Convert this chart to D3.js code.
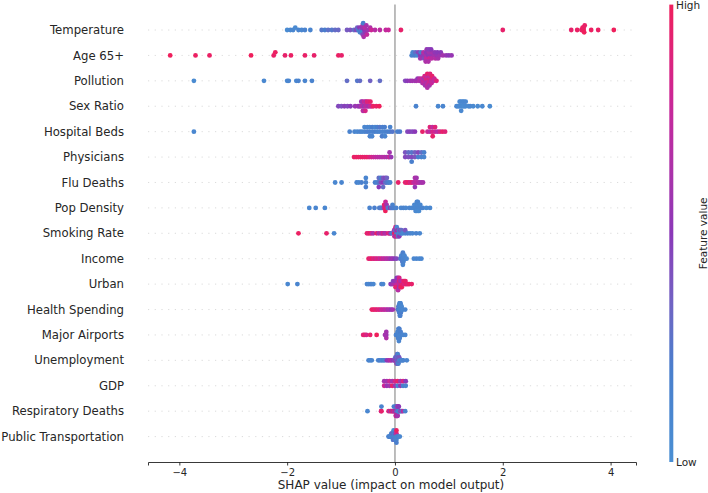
<!DOCTYPE html>
<html><head><meta charset="utf-8">
<script src="https://cdn.jsdelivr.net/npm/d3@7/dist/d3.min.js"></script>
<style>body{margin:0;background:#fff}svg{display:block;font-family:"DejaVu Sans",sans-serif}</style>
</head><body><svg id="c" width="708" height="493"></svg>
<script>
const features = ["Temperature","Age 65+","Pollution","Sex Ratio","Hospital Beds","Physicians","Flu Deaths","Pop Density","Smoking Rate","Income","Urban","Health Spending","Major Airports","Unemployment","GDP","Respiratory Deaths","Public Transportation"];
const xTicks = [-4,-2,0,2,4];
const colorTicks = ["Low","High"];
// each point: [SHAP value, normalised feature value]
const temperature = [[-2.0,0.05],[-1.94,0.08],[-1.89,0.1],[-1.85,0.06],[-1.79,0.12],[-1.73,0.1],[-1.67,0.15],[-1.57,0.12],[-1.36,0.25],[-1.30,0.22],[-1.24,0.28],[-1.17,0.25],[-1.11,0.3],[-1.05,0.32],[-0.89,0.38],[-0.83,0.4],[-0.76,0.3],[-0.72,0.45],[-0.70,0.35],[-0.68,0.2],[-0.66,0.5],[-0.65,0.15],[-0.63,0.25],[-0.62,0.55],[-0.61,0.15],[-0.60,0.6],[-0.60,0.45],[-0.59,0.2],[-0.58,0.65],[-0.57,0.5],[-0.56,0.7],[-0.55,0.55],[-0.53,0.62],[-0.52,0.75],[-0.5,0.6],[-0.46,0.65],[-0.44,0.8],[-0.37,0.7],[-0.28,0.72],[-0.17,0.75],[-0.12,0.78],[0.11,0.95],[2.0,0.95],[3.27,0.95],[3.38,0.97],[3.46,0.96],[3.48,0.98],[3.5,0.99],[3.5,0.97],[3.51,1.0],[3.52,0.96],[3.64,0.98],[3.77,0.97],[4.06,1.0]];
const age65 = [[-4.17,1.0],[-3.7,0.98],[-3.44,0.97],[-2.67,1.0],[-2.25,0.96],[-2.22,0.98],[-2.04,0.95],[-1.93,0.97],[-1.67,0.96],[-1.5,0.95],[-1.05,0.97],[-0.99,0.95],[0.31,0.15],[0.33,0.1],[0.36,0.2],[0.38,0.3],[0.41,0.12],[0.43,0.45],[0.47,0.5],[0.48,0.2],[0.47,0.6],[0.52,0.55],[0.53,0.7],[0.54,0.45],[0.57,0.6],[0.58,0.5],[0.58,0.75],[0.59,0.55],[0.57,0.65],[0.62,0.52],[0.63,0.6],[0.64,0.8],[0.63,0.48],[0.62,0.65],[0.68,0.55],[0.69,0.62],[0.68,0.7],[0.67,0.5],[0.73,0.6],[0.74,0.52],[0.75,0.68],[0.78,0.55],[0.79,0.5],[0.8,0.62],[0.83,0.58],[0.85,0.5],[0.89,0.6],[0.95,0.55],[1.0,0.5],[1.05,0.55]];
const pollution = [[-3.73,0.05],[-2.43,0.08],[-2.0,0.1],[-1.97,0.12],[-1.83,0.1],[-1.79,0.15],[-1.67,0.12],[-1.54,0.15],[-0.89,0.3],[-0.7,0.25],[-0.65,0.3],[-0.46,0.35],[-0.28,0.3],[0.19,0.45],[0.23,0.5],[0.28,0.55],[0.32,0.6],[0.37,0.58],[0.40,0.62],[0.42,0.55],[0.45,0.65],[0.46,0.7],[0.49,0.6],[0.5,0.75],[0.51,0.68],[0.53,0.8],[0.54,0.62],[0.55,0.72],[0.55,0.85],[0.56,0.6],[0.58,0.7],[0.58,0.9],[0.59,0.65],[0.59,0.74],[0.6,0.78],[0.6,0.95],[0.6,0.66],[0.62,0.7],[0.63,0.88],[0.63,0.82],[0.64,0.75],[0.64,0.62],[0.65,0.9],[0.67,0.68],[0.68,0.85],[0.68,0.78],[0.69,0.95],[0.72,0.72],[0.73,0.8],[0.77,0.9]];
const sexRatio = [[-1.05,0.45],[-0.994,0.42],[-0.938,0.48],[-0.881,0.45],[-0.825,0.5],[-0.74,0.55],[-0.685,0.6],[-0.657,0.52],[-0.63,0.65],[-0.625,0.58],[-0.6,0.7],[-0.605,0.6],[-0.595,0.75],[-0.572,0.55],[-0.57,0.8],[-0.575,0.65],[-0.544,0.72],[-0.54,0.6],[-0.548,0.85],[-0.516,0.7],[-0.52,0.9],[-0.488,0.62],[-0.49,0.88],[-0.46,0.75],[-0.455,0.95],[-0.432,0.8],[-0.404,0.98],[-0.347,0.95],[-0.291,1.0],[0.39,0.15],[0.8,0.1],[0.89,0.12],[1.142,0.1],[1.17,0.08],[1.198,0.05],[1.2,0.1],[1.226,0.07],[1.224,0.06],[1.228,0.08],[1.254,0.05],[1.256,0.1],[1.282,0.04],[1.28,0.08],[1.31,0.06],[1.312,0.1],[1.367,0.05],[1.395,0.08],[1.451,0.06],[1.535,0.05],[1.62,0.08],[1.76,0.05]];
const hospitalBeds = [[-3.73,0.1],[-0.84,0.15],[-0.75,0.12],[-0.70,0.1],[-0.65,0.15],[-0.61,0.12],[-0.56,0.15],[-0.565,0.1],[-0.515,0.2],[-0.51,0.12],[-0.468,0.18],[-0.47,0.1],[-0.465,0.15],[-0.421,0.15],[-0.42,0.22],[-0.425,0.12],[-0.375,0.18],[-0.37,0.1],[-0.328,0.15],[-0.33,0.2],[-0.282,0.12],[-0.28,0.25],[-0.235,0.15],[-0.23,0.18],[-0.24,0.22],[-0.188,0.15],[-0.19,0.2],[-0.185,0.12],[-0.142,0.18],[-0.095,0.2],[-0.09,0.15],[-0.049,0.25],[0.045,0.2],[0.091,0.22],[0.231,0.45],[0.277,0.48],[0.324,0.45],[0.371,0.5],[0.51,0.95],[0.603,0.8],[0.65,0.7],[0.648,0.9],[0.697,0.85],[0.695,0.75],[0.7,0.95],[0.743,0.8],[0.745,0.9],[0.79,0.7],[0.836,0.85],[0.883,0.95],[0.93,0.9]];
const physicians = [[-0.76,0.97],[-0.72,0.95],[-0.68,0.98],[-0.64,0.95],[-0.6,0.97],[-0.56,0.93],[-0.52,0.96],[-0.48,0.9],[-0.44,0.85],[-0.4,0.8],[-0.36,0.75],[-0.32,0.72],[-0.28,0.7],[-0.24,0.68],[-0.2,0.7],[-0.16,0.65],[-0.12,0.62],[-0.1,0.8],[-0.1,0.6],[-0.07,0.55],[0.19,0.45],[0.19,0.4],[0.25,0.42],[0.25,0.3],[0.31,0.45],[0.31,0.25],[0.31,0.2],[0.37,0.4],[0.37,0.35],[0.43,0.2],[0.43,0.45],[0.49,0.15],[0.49,0.3],[0.54,0.12],[0.54,0.2]];
const fluDeaths = [[-1.11,0.1],[-0.99,0.12],[-0.71,0.15],[-0.67,0.1],[-0.62,0.18],[-0.54,0.15],[-0.54,0.12],[-0.54,0.2],[-0.37,0.2],[-0.33,0.15],[-0.3,0.25],[-0.3,0.3],[-0.3,0.5],[-0.26,0.45],[-0.26,0.2],[-0.22,0.5],[-0.22,0.4],[-0.22,0.3],[-0.18,0.3],[-0.18,0.45],[-0.15,0.25],[-0.15,0.35],[-0.12,0.2],[-0.09,0.15],[0.06,0.95],[0.19,0.95],[0.22,0.9],[0.25,0.98],[0.28,0.85],[0.31,0.92],[0.34,0.8],[0.37,0.7],[0.37,0.65],[0.37,0.55],[0.4,0.75],[0.4,0.6],[0.43,0.7],[0.46,0.65],[0.49,0.6],[0.52,0.62]];
const popDensity = [[-1.59,0.1],[-1.47,0.12],[-1.3,0.1],[-0.47,0.15],[-0.38,0.2],[-0.291,0.15],[-0.268,0.25],[-0.246,0.12],[-0.224,0.3],[-0.201,0.7],[-0.2,0.95],[-0.179,0.95],[-0.18,0.9],[-0.178,1.0],[-0.175,0.8],[-0.156,0.92],[-0.155,0.6],[-0.134,0.3],[-0.112,0.2],[-0.089,0.55],[-0.067,0.2],[-0.044,0.25],[-0.045,0.15],[-0.022,0.2],[0.023,0.15],[0.112,0.1],[0.157,0.15],[0.202,0.1],[0.269,0.12],[0.314,0.1],[0.359,0.08],[0.36,0.12],[0.381,0.1],[0.38,0.05],[0.383,0.12],[0.404,0.08],[0.405,0.1],[0.402,0.06],[0.406,0.12],[0.426,0.1],[0.425,0.08],[0.428,0.06],[0.424,0.12],[0.448,0.08],[0.45,0.1],[0.446,0.05],[0.471,0.1],[0.47,0.08],[0.516,0.12],[0.583,0.05],[0.65,0.08]];
const smokingRate = [[-1.79,0.98],[-1.27,0.95],[-1.13,0.1],[-0.52,0.95],[-0.49,0.9],[-0.46,0.98],[-0.43,0.8],[-0.40,0.65],[-0.34,0.95],[-0.3,0.6],[-0.26,0.8],[-0.24,0.65],[-0.22,0.85],[-0.19,0.6],[-0.17,0.7],[-0.12,0.95],[-0.1,0.8],[-0.08,0.6],[-0.06,0.2],[-0.0125,0.95],[-0.015,0.6],[-0.01,0.8],[0.01,0.98],[0.012,0.15],[0.008,0.6],[0.01,0.85],[0.0325,0.2],[0.03,0.55],[0.035,0.95],[0.033,0.1],[0.055,0.15],[0.053,0.6],[0.057,0.2],[0.0775,0.1],[0.075,0.2],[0.08,0.5],[0.1,0.15],[0.1,0.45],[0.1225,0.2],[0.12,0.3],[0.145,0.1],[0.19,0.15],[0.19,0.4],[0.235,0.2],[0.28,0.15],[0.325,0.1],[0.3925,0.15],[0.46,0.1]];
const income = [[-0.49,0.95],[-0.46,0.9],[-0.43,0.98],[-0.4,0.85],[-0.37,0.92],[-0.34,0.8],[-0.31,0.88],[-0.28,0.75],[-0.25,0.85],[-0.22,0.7],[-0.19,0.78],[-0.16,0.65],[-0.13,0.7],[-0.1,0.6],[-0.07,0.55],[-0.04,0.6],[-0.01,0.5],[0.03,0.45],[0.098,0.3],[0.118,0.2],[0.118,0.25],[0.127,0.15],[0.127,0.1],[0.137,0.2],[0.137,0.1],[0.137,0.15],[0.147,0.15],[0.147,0.1],[0.147,0.3],[0.147,0.2],[0.147,0.12],[0.157,0.1],[0.157,0.2],[0.157,0.15],[0.167,0.12],[0.167,0.1],[0.176,0.15],[0.176,0.1],[0.196,0.12],[0.216,0.1],[0.35,0.1],[0.4,0.12],[0.45,0.08],[0.49,0.1]];
const urban = [[-1.99,0.1],[-1.81,0.12],[-0.52,0.15],[-0.49,0.1],[-0.46,0.12],[-0.43,0.15],[-0.40,0.1],[-0.25,0.15],[-0.22,0.1],[-0.081,0.5],[-0.058,0.55],[-0.035,0.6],[-0.035,0.45],[-0.012,0.65],[-0.012,0.5],[0.011,0.7],[0.011,0.55],[0.011,0.95],[0.034,0.75],[0.034,0.6],[0.034,0.9],[0.034,0.5],[0.057,0.8],[0.057,0.65],[0.057,0.95],[0.057,0.55],[0.057,0.7],[0.08,0.7],[0.08,0.9],[0.08,0.55],[0.08,0.85],[0.103,0.85],[0.103,0.6],[0.103,0.95],[0.126,0.9],[0.126,0.7],[0.126,1.0],[0.149,0.95],[0.149,0.85],[0.172,0.85],[0.172,0.98],[0.195,0.9],[0.195,0.95],[0.218,0.95],[0.241,0.9],[0.264,0.98],[0.31,0.95]];
const healthSpending = [[-0.43,0.95],[-0.4,0.98],[-0.37,0.9],[-0.34,0.95],[-0.31,0.85],[-0.28,0.9],[-0.25,0.75],[-0.22,0.8],[-0.19,0.7],[-0.16,0.75],[-0.13,0.6],[-0.1,0.65],[-0.07,0.55],[-0.04,0.6],[0.0536,0.4],[0.0598,0.3],[0.066,0.2],[0.066,0.25],[0.0722,0.15],[0.0722,0.3],[0.0784,0.1],[0.0784,0.2],[0.0784,0.15],[0.0846,0.2],[0.0846,0.1],[0.0846,0.15],[0.0846,0.12],[0.0908,0.1],[0.0908,0.15],[0.0908,0.2],[0.0908,0.12],[0.0908,0.1],[0.097,0.15],[0.097,0.1],[0.097,0.2],[0.097,0.12],[0.097,0.18],[0.1032,0.1],[0.1032,0.15],[0.1032,0.2],[0.1032,0.12],[0.1094,0.15],[0.1094,0.1],[0.1094,0.2],[0.1156,0.12],[0.1156,0.1],[0.1218,0.15],[0.1218,0.1],[0.128,0.12],[0.1466,0.1],[0.19,0.12]];
const majorAirports = [[-0.59,0.9],[-0.56,0.95],[-0.53,0.85],[-0.46,0.95],[-0.34,1.0],[-0.161,0.55],[-0.161,0.6],[-0.161,0.65],[-0.184,0.6],[0.0184,0.15],[0.034,0.1],[0.0418,0.2],[0.0496,0.12],[0.0496,0.15],[0.0574,0.1],[0.0574,0.18],[0.0574,0.12],[0.0652,0.15],[0.0652,0.1],[0.0652,0.2],[0.0652,0.12],[0.073,0.12],[0.073,0.15],[0.073,0.1],[0.073,0.18],[0.073,0.12],[0.0808,0.1],[0.0808,0.15],[0.0808,0.12],[0.0808,0.2],[0.0886,0.12],[0.0886,0.1],[0.0886,0.15],[0.0964,0.1],[0.0964,0.15],[0.1042,0.12],[0.1042,0.2],[0.112,0.1],[0.1276,0.15],[0.151,0.12],[0.19,0.1]];
const unemployment = [[-0.49,0.15],[-0.46,0.1],[-0.43,0.12],[-0.31,0.15],[-0.28,0.2],[-0.25,0.12],[-0.22,0.18],[-0.19,0.15],[-0.15,0.5],[-0.12,0.55],[-0.09,0.7],[-0.06,0.6],[-0.0214,0.5],[-0.0072,0.4],[0.007,0.6],[0.007,0.3],[0.0212,0.7],[0.0212,0.25],[0.0283,0.55],[0.0283,0.2],[0.0283,0.8],[0.0354,0.3],[0.0354,0.5],[0.0354,0.15],[0.0425,0.2],[0.0425,0.65],[0.0425,0.1],[0.0425,0.45],[0.0496,0.35],[0.0496,0.2],[0.0496,0.6],[0.0496,0.15],[0.0567,0.5],[0.0567,0.1],[0.0567,0.3],[0.0638,0.2],[0.0638,0.55],[0.0638,0.15],[0.0709,0.6],[0.0709,0.2],[0.078,0.1],[0.078,0.4],[0.0922,0.15],[0.1135,0.2],[0.1348,0.1],[0.1561,0.15],[0.22,0.12]];
const gdp = [[-0.2,0.8],[-0.2,0.6],[-0.15,0.55],[-0.15,0.6],[-0.1,0.6],[-0.1,0.8],[-0.05,0.95],[-0.05,0.6],[0.0,0.6],[0.0,0.85],[0.05,0.15],[0.05,0.95],[0.1,0.55],[0.1,0.6],[0.15,0.2],[0.15,0.85],[0.2,0.15],[0.2,0.5]];
const respiratoryDeaths = [[-0.51,0.1],[-0.258,0.8],[-0.251,0.95],[-0.251,0.15],[-0.118,0.9],[-0.09,0.6],[-0.069,0.95],[-0.048,0.55],[-0.034,0.98],[-0.02,0.6],[-0.02,0.2],[-0.006,0.7],[0.008,0.55],[0.015,0.95],[0.015,0.2],[0.015,0.6],[0.022,0.5],[0.022,0.15],[0.022,0.9],[0.029,0.6],[0.029,0.2],[0.029,0.65],[0.036,0.1],[0.036,0.55],[0.036,0.95],[0.043,0.6],[0.043,0.15],[0.043,0.5],[0.05,0.2],[0.05,0.7],[0.05,0.6],[0.057,0.15],[0.057,0.55],[0.064,0.2],[0.064,0.6],[0.071,0.1],[0.071,0.5],[0.085,0.15],[0.106,0.6],[0.127,0.2],[0.148,0.7],[0.19,0.15]];
const publicTransportation = [[-0.12,0.15],[-0.1095,0.1],[-0.099,0.2],[-0.0885,0.12],[-0.078,0.15],[-0.0675,0.1],[-0.0675,0.2],[-0.057,0.15],[-0.057,0.12],[-0.0465,0.1],[-0.0465,0.45],[-0.0402,0.2],[-0.0402,0.15],[-0.036,0.12],[-0.036,0.1],[-0.036,0.2],[-0.0297,0.15],[-0.0297,0.5],[-0.0297,0.1],[-0.0255,0.2],[-0.0255,0.12],[-0.0255,0.15],[-0.0255,0.1],[-0.0192,0.1],[-0.0192,0.2],[-0.015,0.15],[-0.015,0.12],[-0.015,0.4],[-0.0087,0.1],[-0.0087,0.2],[-0.0045,0.12],[-0.0045,0.15],[-0.0045,0.1],[0.0018,0.2],[0.0018,0.1],[0.006,0.15],[0.006,0.5],[0.0165,0.12],[0.0165,0.1],[0.027,0.15],[0.027,0.8],[0.027,0.12],[0.027,0.98],[0.027,0.2],[0.0375,0.1],[0.048,0.15],[0.069,0.12],[0.09,0.1]];

const featureData = [temperature,age65,pollution,sexRatio,hospitalBeds,physicians,fluDeaths,popDensity,smokingRate,income,urban,healthSpending,majorAirports,unemployment,gdp,respiratoryDeaths,publicTransportation];

const svg = d3.select("#c");
const plotL = 148, plotR = 636, plotT = 4.6, plotB = 462;
const allVals = featureData.flat().map(d=>d[0]);
const vmin = d3.min(allVals), vmax = d3.max(allVals), span = vmax - vmin;
const x = d3.scaleLinear().domain([vmin-0.05*span, vmax+0.05*span]).range([plotL,plotR]);
const n = features.length;
const y = d3.scaleLinear().domain([-1, n]).range([plotB, plotT]);
const color = d3.scaleLinear().domain([0,0.22,0.5,0.78,1])
  .range(["#4a8fd3","#4a7dcc","#8b38b8","#c8279a","#ef1f5c"]).interpolate(d3.interpolateLab);

// dotted guide lines
svg.append("g").selectAll("line").data(features).join("line")
  .attr("x1", plotL).attr("x2", plotR)
  .attr("y1", (d,i)=>y(n-1-i)).attr("y2", (d,i)=>y(n-1-i))
  .attr("stroke","#cccccc").attr("stroke-width",0.7).attr("stroke-dasharray","1.2 5.5");
// zero line
svg.append("line").attr("x1",x(0)).attr("x2",x(0)).attr("y1",plotT).attr("y2",plotB)
  .attr("stroke","#999999").attr("stroke-width",1.3);

function swarm(pts){
  const vals = pts.map(p=>p[0]);
  const mn = d3.min(vals), mx = d3.max(vals);
  const quant = vals.map(v=>Math.round(100*(v-mn)/(mx-mn+1e-8)));
  const inds = d3.range(pts.length).sort((a,b)=>quant[a]-quant[b] || a-b);
  const ys = new Array(pts.length).fill(0);
  let layer = 0, last = -1;
  for (const i of inds){
    if (quant[i] !== last) layer = 0;
    ys[i] = Math.ceil(layer/2) * ((layer%2)*2-1);
    layer++; last = quant[i];
  }
  const k = 0.9*(0.4/(d3.max(ys)+1));
  return ys.map(v=>v*k);
}

const dots = svg.append("g");
featureData.forEach((pts,i)=>{
  const pos = n-1-i;
  const ys = swarm(pts);
  dots.append("g").selectAll("circle").data(pts).join("circle")
    .attr("cx", d=>x(d[0])).attr("cy", (d,j)=>y(pos+ys[j]))
    .attr("r", 2.4).attr("fill", d=>color(d[1]));
});

// y labels
svg.append("g").selectAll("text").data(features).join("text")
  .attr("x", 124).attr("y", (d,i)=>y(n-1-i)).attr("dy","0.35em")
  .attr("text-anchor","end").attr("font-size",11.7).attr("fill","#262626").text(d=>d);

// x axis
const ax = svg.append("g").attr("transform",`translate(0,${plotB})`)
  .call(d3.axisBottom(x).tickValues(xTicks).tickSizeOuter(0).tickSize(3.5).tickPadding(3).tickFormat(d=>d<0?"\u2212"+Math.abs(d):d));
ax.select(".domain").attr("stroke","#222").attr("stroke-width",0.9);
ax.selectAll(".tick line").attr("stroke","#222").attr("stroke-width",0.9);
ax.selectAll(".tick text").attr("font-size",10).attr("fill","#262626").attr("font-family","DejaVu Sans");
svg.append("text").attr("x",(plotL+plotR)/2 - 1).attr("y",489).attr("text-anchor","middle")
  .attr("font-size",12).attr("fill","#262626").text("SHAP value (impact on model output)");

// colorbar
const defs = svg.append("defs");
const grad = defs.append("linearGradient").attr("id","cb").attr("x1",0).attr("x2",0).attr("y1",1).attr("y2",0);
d3.range(0,1.0001,0.05).forEach(t=>grad.append("stop").attr("offset",t).attr("stop-color",color(t)));
svg.append("rect").attr("x",669.3).attr("y",plotT).attr("width",4).attr("height",plotB-plotT).attr("fill","url(#cb)");
svg.append("text").attr("x",676).attr("y",plotB).attr("dy","0.35em").attr("font-size",10.5).attr("fill","#262626").text(colorTicks[0]);
svg.append("text").attr("x",676).attr("y",plotT+1).attr("dy","0.35em").attr("font-size",10.5).attr("fill","#262626").text(colorTicks[1]);
svg.append("text").attr("transform",`translate(707,${(plotT+plotB)/2}) rotate(-90)`).attr("text-anchor","middle")
  .attr("font-size",10.5).attr("fill","#262626").text("Feature value");
</script></body></html>
